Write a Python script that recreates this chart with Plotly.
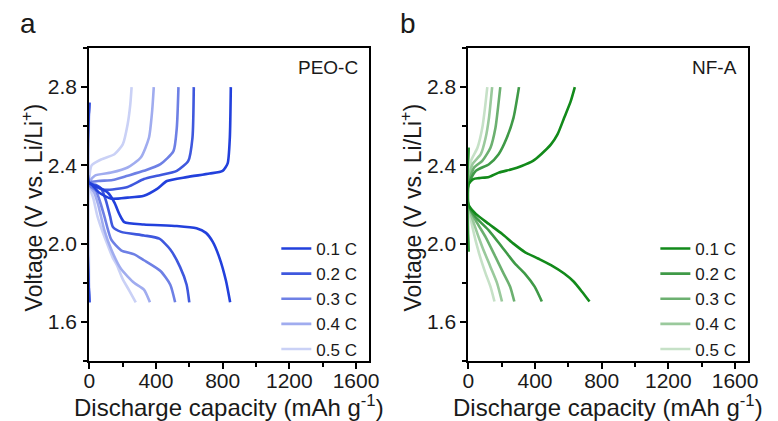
import plotly.graph_objects as go

rates = ["0.1 C", "0.2 C", "0.3 C", "0.4 C", "0.5 C"]

# ---- Panel a: PEO-C (capacity mAh/g, voltage V) ----
peo_dis_cap = [
    [0, 0, 50, 112, 151, 181, 210, 328, 525, 643, 700, 740, 780, 820, 845],
    [0, 0, 40, 73, 100, 125, 142, 191, 328, 420, 486, 545, 584, 600],
    [0, 0, 40, 70, 92, 132, 191, 270, 328, 427, 486, 515],
    [0, 0, 30, 53, 90, 132, 191, 269, 328, 364],
    [0, 0, 25, 49, 80, 107, 140, 166, 200, 240, 279],
]
peo_dis_v = [
    [2.72, 2.31, 2.29, 2.26, 2.21, 2.15, 2.11, 2.098, 2.09, 2.078, 2.055, 2.01, 1.93, 1.81, 1.70],
    [2.72, 2.31, 2.30, 2.28, 2.22, 2.14, 2.085, 2.06, 2.042, 2.025, 1.97, 1.88, 1.79, 1.70],
    [2.72, 2.30, 2.27, 2.20, 2.135, 2.02, 1.966, 1.945, 1.915, 1.86, 1.79, 1.70],
    [2.72, 2.30, 2.26, 2.20, 2.07, 1.97, 1.87, 1.80, 1.765, 1.70],
    [2.72, 2.30, 2.23, 2.14, 2.06, 2.00, 1.93, 1.89, 1.82, 1.76, 1.70],
]
peo_ch_cap = [
    [0, 0, 60, 132, 230, 328, 407, 466, 584, 722, 800, 830, 843, 849],
    [0, 0, 40, 92, 230, 328, 407, 525, 594, 619, 627],
    [0, 0, 53, 140, 230, 328, 427, 505, 525, 535],
    [0, 0, 33, 132, 230, 309, 358, 377, 387],
    [0, 0, 14, 73, 151, 201, 230, 246, 254],
]
peo_ch_v = [
    [1.70, 2.31, 2.26, 2.23, 2.235, 2.245, 2.28, 2.32, 2.34, 2.358, 2.372, 2.41, 2.54, 2.80],
    [1.70, 2.31, 2.29, 2.275, 2.29, 2.33, 2.347, 2.372, 2.423, 2.541, 2.80],
    [1.70, 2.31, 2.32, 2.325, 2.347, 2.372, 2.406, 2.473, 2.592, 2.80],
    [1.70, 2.31, 2.347, 2.363, 2.389, 2.44, 2.541, 2.676, 2.80],
    [1.70, 2.33, 2.40, 2.431, 2.457, 2.507, 2.609, 2.71, 2.80],
]

# ---- Panel b: NF-A ----
nfa_dis_cap = [
    [0, 0, 45, 124, 202, 271, 339, 418, 496, 575, 633, 682, 727],
    [0, 0, 45, 124, 202, 280, 339, 398, 441],
    [0, 0, 45, 104, 163, 212, 251, 276],
    [0, 0, 35, 84, 133, 173, 202],
    [0, 0, 25, 65, 104, 133, 157],
]
nfa_dis_v = [
    [2.49, 2.20, 2.152, 2.10, 2.05, 2.0, 1.957, 1.924, 1.89, 1.847, 1.805, 1.754, 1.704],
    [2.49, 2.20, 2.135, 2.067, 1.983, 1.898, 1.847, 1.78, 1.704],
    [2.49, 2.20, 2.118, 2.033, 1.932, 1.847, 1.78, 1.704],
    [2.49, 2.20, 2.10, 1.983, 1.881, 1.797, 1.704],
    [2.49, 2.20, 2.084, 1.949, 1.847, 1.78, 1.704],
]
nfa_ch_cap = [
    [0, 0, 30, 65, 124, 182, 261, 320, 388, 437, 496, 535, 575, 614, 639],
    [0, 0, 45, 124, 182, 231, 271, 304],
    [0, 0, 35, 84, 133, 163, 178, 192],
    [0, 0, 25, 75, 104, 124, 143],
    [0, 0, 16, 55, 84, 100, 114],
]
nfa_ch_v = [
    [1.96, 2.30, 2.33, 2.335, 2.341, 2.363, 2.38, 2.397, 2.423, 2.457, 2.507, 2.558, 2.643, 2.727, 2.80],
    [1.96, 2.30, 2.372, 2.406, 2.457, 2.541, 2.643, 2.80],
    [1.96, 2.30, 2.389, 2.423, 2.49, 2.592, 2.693, 2.80],
    [1.96, 2.30, 2.406, 2.457, 2.541, 2.643, 2.80],
    [1.96, 2.30, 2.423, 2.49, 2.592, 2.693, 2.80],
]

blues = ["#2240dc", "#3f58de", "#6e80e5", "#a0acef", "#cad1f6"]
greens = ["#128a1a", "#3f9a47", "#6cb070", "#9ac99c", "#c6e1c7"]

FONT = "Arial, Liberation Sans, sans-serif"
W, H = 778, 421

fig = go.Figure()


def add_panel(dcap, dv, ccap, cv, colors, xa, ya, leg):
    # draw lightest first so darkest lies on top
    for i in reversed(range(len(rates))):
        x = list(dcap[i]) + [None] + list(ccap[i])
        y = list(dv[i]) + [None] + list(cv[i])
        fig.add_trace(go.Scatter(
            x=x, y=y, mode="lines", name=rates[i],
            line=dict(color=colors[i], width=2.6, shape="spline", smoothing=0.6),
            xaxis=xa, yaxis=ya, legend=leg, connectgaps=False,
        ))


add_panel(peo_dis_cap, peo_dis_v, peo_ch_cap, peo_ch_v, blues, "x", "y", "legend")
add_panel(nfa_dis_cap, nfa_dis_v, nfa_ch_cap, nfa_ch_v, greens, "x2", "y2", "legend2")

ydom = [1 - 361 / H, 1 - 48 / H]
xd1 = [85 / W, 371 / W]
xd2 = [472 / W, 758 / W]

axis_common = dict(
    showline=True, linecolor="black", linewidth=2, mirror=True,
    ticks="outside", ticklen=6, tickwidth=2, tickcolor="black",
    showgrid=False, zeroline=False,
    tickfont=dict(family=FONT, size=21, color="#1a1a1a"),
    layer="below traces",
)
xcommon = dict(axis_common, range=[0, 1680], tick0=0, dtick=400, ticklabelstandoff=-6,
               minor=dict(dtick=200, ticks="outside", ticklen=4, tickwidth=2, tickcolor="black"))
ycommon = dict(axis_common, range=[1.4, 3.0], tick0=0, dtick=0.4, tickformat=".1f",
               minor=dict(dtick=0.2, ticks="outside", ticklen=4, tickwidth=2, tickcolor="black"))

leg_common = dict(xanchor="left", yanchor="top", traceorder="reversed",
                  bgcolor="rgba(0,0,0,0)", font=dict(family=FONT, size=17, color="#1a1a1a"),
                  tracegroupgap=0, itemwidth=30)

fig.update_layout(
    width=W, height=H, margin=dict(l=0, r=0, t=0, b=0),
    paper_bgcolor="white", plot_bgcolor="white",
    font=dict(family=FONT, color="#1a1a1a"),
    xaxis=dict(xcommon, domain=xd1, anchor="y"),
    yaxis=dict(ycommon, domain=ydom, anchor="x"),
    xaxis2=dict(xcommon, domain=xd2, anchor="y2"),
    yaxis2=dict(ycommon, domain=ydom, anchor="x2"),
    legend=dict(leg_common, x=276 / W, y=1 - 231 / H),
    legend2=dict(leg_common, x=663 / W, y=1 - 231 / H),
    showlegend=True,
)


def note(text, px, py, size, xanchor="center", angle=0):
    return dict(text=text, x=px / W, y=1 - py / H, xref="paper", yref="paper",
                xanchor=xanchor, yanchor="middle", textangle=angle, showarrow=False,
                font=dict(family=FONT, size=size, color="#1a1a1a"))


ann = [
    note("a", 22, 24, 28),
    note("b", 410, 24, 28),
    note("PEO-C", 361, 68, 19, xanchor="right"),
    note("NF-A", 748, 68, 19, xanchor="right"),
]
xt = "Discharge capacity (mAh g<sup>-1</sup>)"
yt = "Voltage (V vs. Li/Li<sup>+</sup>)"
for cx in [(85 + 371) / 2, (472 + 758) / 2]:
    ann.append(note(xt, cx, 406, 24))
for cx in [27, 414]:
    ann.append(note(yt, cx, 207, 23, angle=-90))
fig.update_layout(annotations=ann)

fig.write_html("out.html")
